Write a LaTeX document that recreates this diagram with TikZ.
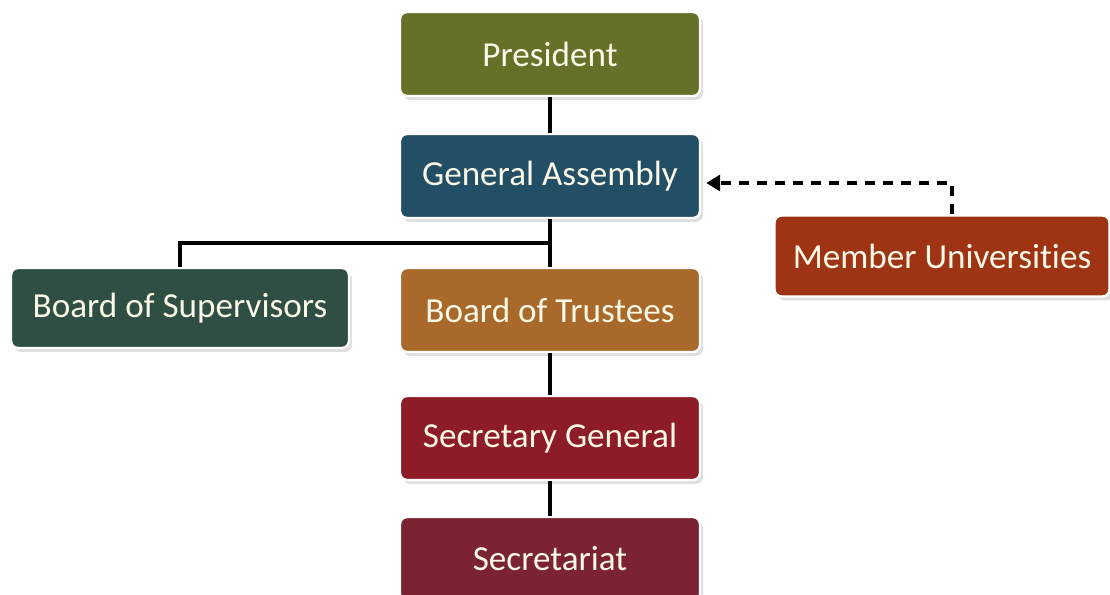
\documentclass[tikz,border=0pt]{standalone}
\usepackage{fontspec}
\setmainfont[Ligatures=NoCommon]{Carlito}
\usepackage{tikz}
\usetikzlibrary{positioning,shadows,calc,arrows.meta}
\definecolor{presgreen}{RGB}{102,112,41}
\definecolor{assemblyblue}{RGB}{35,79,102}
\definecolor{supgreen}{RGB}{47,79,68}
\definecolor{trustbrown}{RGB}{168,105,42}
\definecolor{secred}{RGB}{142,27,40}
\definecolor{secwine}{RGB}{123,34,51}
\definecolor{memberrust}{RGB}{158,52,20}
\definecolor{cream}{RGB}{250,248,230}
\tikzstyle{orgbox} = [rectangle, rounded corners=4pt, minimum width=6cm, minimum height=1.68cm, text centered, draw=white, line width=1.4pt, text=cream, font=\fontsize{20}{24}\selectfont, drop shadow={opacity=0.25, shadow xshift=0.06cm, shadow yshift=-0.08cm}]
\tikzstyle{connect} = [line width=2pt]
\tikzstyle{dashconn} = [line width=2pt, dash pattern=on 0.2cm off 0.16cm, -{Triangle[length=0.28cm, width=0.32cm]}, shorten >=0.1cm]

\begin{document}
\begin{tikzpicture}[node distance=2.56cm]
			\useasboundingbox (-11.0,1.08) rectangle (11.2,-10.82);

			\node (pres) [orgbox, fill=presgreen] {President};
			\node (assembly) [orgbox, fill=assemblyblue, below of=pres, yshift=0.12cm] {General Assembly};
			\node (trustees) [orgbox, fill=trustbrown, below of=assembly, yshift=-0.12cm] {Board of Trustees};
			\node (secgen) [orgbox, fill=secred, below of=trustees] {Secretary General};
			\node (secretariat) [orgbox, fill=secwine, below of=secgen, yshift=0.14cm] {Secretariat};
			\node (supervisors) [orgbox, fill=supgreen, minimum width=6.76cm, minimum height=1.6cm, left of=trustees, xshift=-4.84cm, yshift=0.04cm] {Board of Supervisors};
			\node (members) [orgbox, fill=memberrust, minimum width=6.7cm, minimum height=1.62cm, right of=assembly, xshift=5.28cm, yshift=-1.6cm] {Member Universities};

			\coordinate (fork) at ($(assembly.south)!0.5!(trustees.north)$);

			\draw[connect] (pres.south) -- (assembly.north);
			\draw[connect] (assembly.south) -- (trustees.north);
			\draw[connect] (fork) -| (supervisors.north);
			\draw[connect] (trustees.south) -- (secgen.north);
			\draw[connect] (secgen.south) -- (secretariat.north);
			\draw[dashconn] ([xshift=0.2cm]members.north) |- ([yshift=-0.14cm]assembly.east);

\end{tikzpicture}
\end{document}
